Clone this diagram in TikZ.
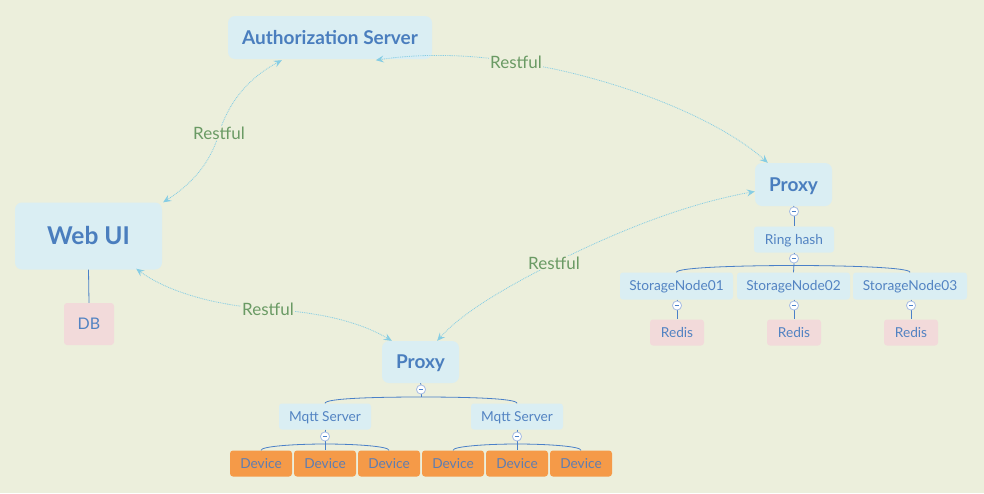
\documentclass[tikz,border=0pt]{standalone}
\usepackage{fontspec}
\setmainfont{Lato}
\usetikzlibrary{arrows.meta,calc}
\definecolor{bg}{HTML}{ECEFDC}
\definecolor{boxblue}{HTML}{DAEEF3}
\definecolor{boldblue}{HTML}{4A7EBE}
\definecolor{txtblue}{HTML}{5283C2}
\definecolor{pinkbox}{HTML}{F2DADA}
\definecolor{orangebox}{HTML}{F59A48}
\definecolor{devtxt}{HTML}{5F7DB0}
\definecolor{restgreen}{HTML}{6A9A64}
\definecolor{conn}{HTML}{86CDE4}
\definecolor{treeblue}{HTML}{4A80C8}
\definecolor{circ}{HTML}{A9BEE3}
\begin{document}
\begin{tikzpicture}[x=1pt,y=-1pt,
  box/.style={fill=boxblue, rounded corners=3pt, inner sep=0pt, text=txtblue,
    font=\fontsize{13.7}{16}\selectfont, minimum height=26pt, text height=9.9pt, text depth=0pt},
  big/.style={box, rounded corners=7pt, text=boldblue,
    font=\bfseries\fontsize{19}{21}\selectfont, minimum height=43pt, text height=13.7pt},
  pinkn/.style={box, fill=pinkbox},
  dev/.style={box, fill=orangebox, text=devtxt, minimum width=62pt},
  tree/.style={draw=treeblue, line width=0.8pt},
  minus/.style={circle, draw=circ, fill=white, minimum size=9pt, inner sep=0pt, line width=0.7pt,
    path picture={\draw[line width=0.8pt,treeblue] ([xshift=-2.3pt]path picture bounding box.center) -- ([xshift=2.3pt]path picture bounding box.center);}},
  rest/.style={draw=conn, line width=0.8pt, dash pattern=on 0.9pt off 0.9pt,
    {Stealth[length=8pt,width=7pt,inset=3pt]}-{Stealth[length=8pt,width=7pt,inset=3pt]}},
  restlbl/.style={fill=bg, inner sep=1pt, text=restgreen, font=\fontsize{17}{19}\selectfont}
]
\fill[bg] (0,0) rectangle (984,493);
\useasboundingbox (0,0) rectangle (984,493);

% main nodes
\node[big, minimum width=204pt] (auth) at (330,37.5) {Authorization Server};
\node[big, minimum width=147pt, minimum height=67pt, text height=17.6pt, font=\bfseries\fontsize{24.5}{27}\selectfont] (webui) at (88.5,236) {Web UI};
\node[pinkn, minimum width=50pt, minimum height=42pt, text height=11.5pt, font=\fontsize{16}{18}\selectfont] (db) at (89,324) {DB};
\node[big, minimum width=77pt] (proxyR) at (793.5,184.5) {Proxy};
\node[big, minimum width=77pt, minimum height=42pt] (proxyB) at (420.5,362) {Proxy};

% right tree
\node[box, minimum width=80pt] (ring) at (794,239.5) {Ring hash};
\node[box, minimum width=113pt, minimum height=27pt] (sn1) at (676.5,286) {StorageNode01};
\node[box, minimum width=113pt, minimum height=27pt] (sn2) at (793.5,286) {StorageNode02};
\node[box, minimum width=114pt, minimum height=27pt] (sn3) at (910,286) {StorageNode03};
\node[pinkn, minimum width=54pt] (r1) at (677,332.5) {Redis};
\node[pinkn, minimum width=54pt] (r2) at (794,332.5) {Redis};
\node[pinkn, minimum width=54pt] (r3) at (911,332.5) {Redis};

% bottom tree
\node[box, minimum width=92pt] (m1) at (325,416.5) {Mqtt Server};
\node[box, minimum width=92pt] (m2) at (517,416.5) {Mqtt Server};
\node[dev] (d1) at (261,463.5) {Device};
\node[dev] (d2) at (325,463.5) {Device};
\node[dev] (d3) at (389,463.5) {Device};
\node[dev] (d4) at (453,463.5) {Device};
\node[dev] (d5) at (517,463.5) {Device};
\node[dev] (d6) at (581,463.5) {Device};

% web ui - db
\draw[tree] (webui.south) -- (db.north);

% minus circles
\node[minus] (c1) at (794,211.5) {};
\node[minus] (c2) at (794,258.5) {};
\node[minus] (c3) at (677,305.5) {};
\node[minus] (c4) at (794,305.5) {};
\node[minus] (c5) at (911,305.5) {};
\node[minus] (c6) at (421,389.5) {};
\node[minus] (c7) at (325,436.5) {};
\node[minus] (c8) at (517,436.5) {};

\coordinate (j1) at (794,265.5);
\coordinate (j2) at (421,397);
\coordinate (j3) at (325,444);
\coordinate (j4) at (517,444);

\draw[tree] (proxyR.south) -- (c1.north);
\draw[tree] (c1.south) -- (ring.north);
\draw[tree] (ring.south) -- (c2.north);
\draw[tree] (c2.south) -- (sn2.north);
\draw[tree] (sn1.north) .. controls +(0,-5) and +(-50,0) .. (j1) .. controls +(50,0) and +(0,-5) .. (sn3.north);
\draw[tree] (sn1.south -| r1.north) -- (c3.north); \draw[tree] (c3.south) -- (r1.north);
\draw[tree] (sn2.south -| r2.north) -- (c4.north); \draw[tree] (c4.south) -- (r2.north);
\draw[tree] (sn3.south -| r3.north) -- (c5.north); \draw[tree] (c5.south) -- (r3.north);

\draw[tree] (proxyB.south) -- (c6.north);
\draw[tree] (c6.south) -- (j2);
\draw[tree] (m1.north) .. controls +(0,-5) and +(-45,0) .. (j2) .. controls +(45,0) and +(0,-5) .. (m2.north);
\draw[tree] (m1.south) -- (c7.north); \draw[tree] (c7.south) -- (d2.north);
\draw[tree] (m2.south) -- (c8.north); \draw[tree] (c8.south) -- (d5.north);
\draw[tree] (d1.north) .. controls +(0,-4) and +(-30,0) .. (j3) .. controls +(30,0) and +(0,-4) .. (d3.north);
\draw[tree] (d4.north) .. controls +(0,-4) and +(-30,0) .. (j4) .. controls +(30,0) and +(0,-4) .. (d6.north);

% Restful connectors
\coordinate (l1) at (219,133);
\coordinate (l2) at (516,62);
\coordinate (l3) at (268,309);
\coordinate (l4) at (554,263);

\draw[rest] ([xshift=54pt,yshift=-1pt]auth.south west) .. controls (245,80) and (228,105) .. (l1)
  .. controls (210,165) and (190,185) .. ([xshift=1pt]webui.north east);
\draw[rest] ([xshift=148pt,yshift=-1pt]auth.south west) .. controls (430,52) and (480,56) .. (l2)
  .. controls (620,78) and (720,120) .. ([xshift=13pt]proxyR.north west);
\draw[rest] ([xshift=-26pt,yshift=1pt]webui.south east) .. controls (165,290) and (210,305) .. (l3)
  .. controls (330,313) and (365,325) .. ([xshift=10pt]proxyB.north west);
\draw[rest] ([yshift=-7pt]proxyR.west) .. controls (680,205) and (610,235) .. (l4)
  .. controls (500,290) and (460,315) .. ([xshift=-22pt]proxyB.north east);

\node[restlbl] at (l1) {Restful};
\node[restlbl] at (l2) {Restful};
\node[restlbl] at (l3) {Restful};
\node[restlbl] at (l4) {Restful};

% redraw minus circles on top of lines
\foreach \c in {c1,c2,c3,c4,c5,c6,c7,c8}{
  \node[minus] at (\c) {};
}
\end{tikzpicture}
\end{document}
